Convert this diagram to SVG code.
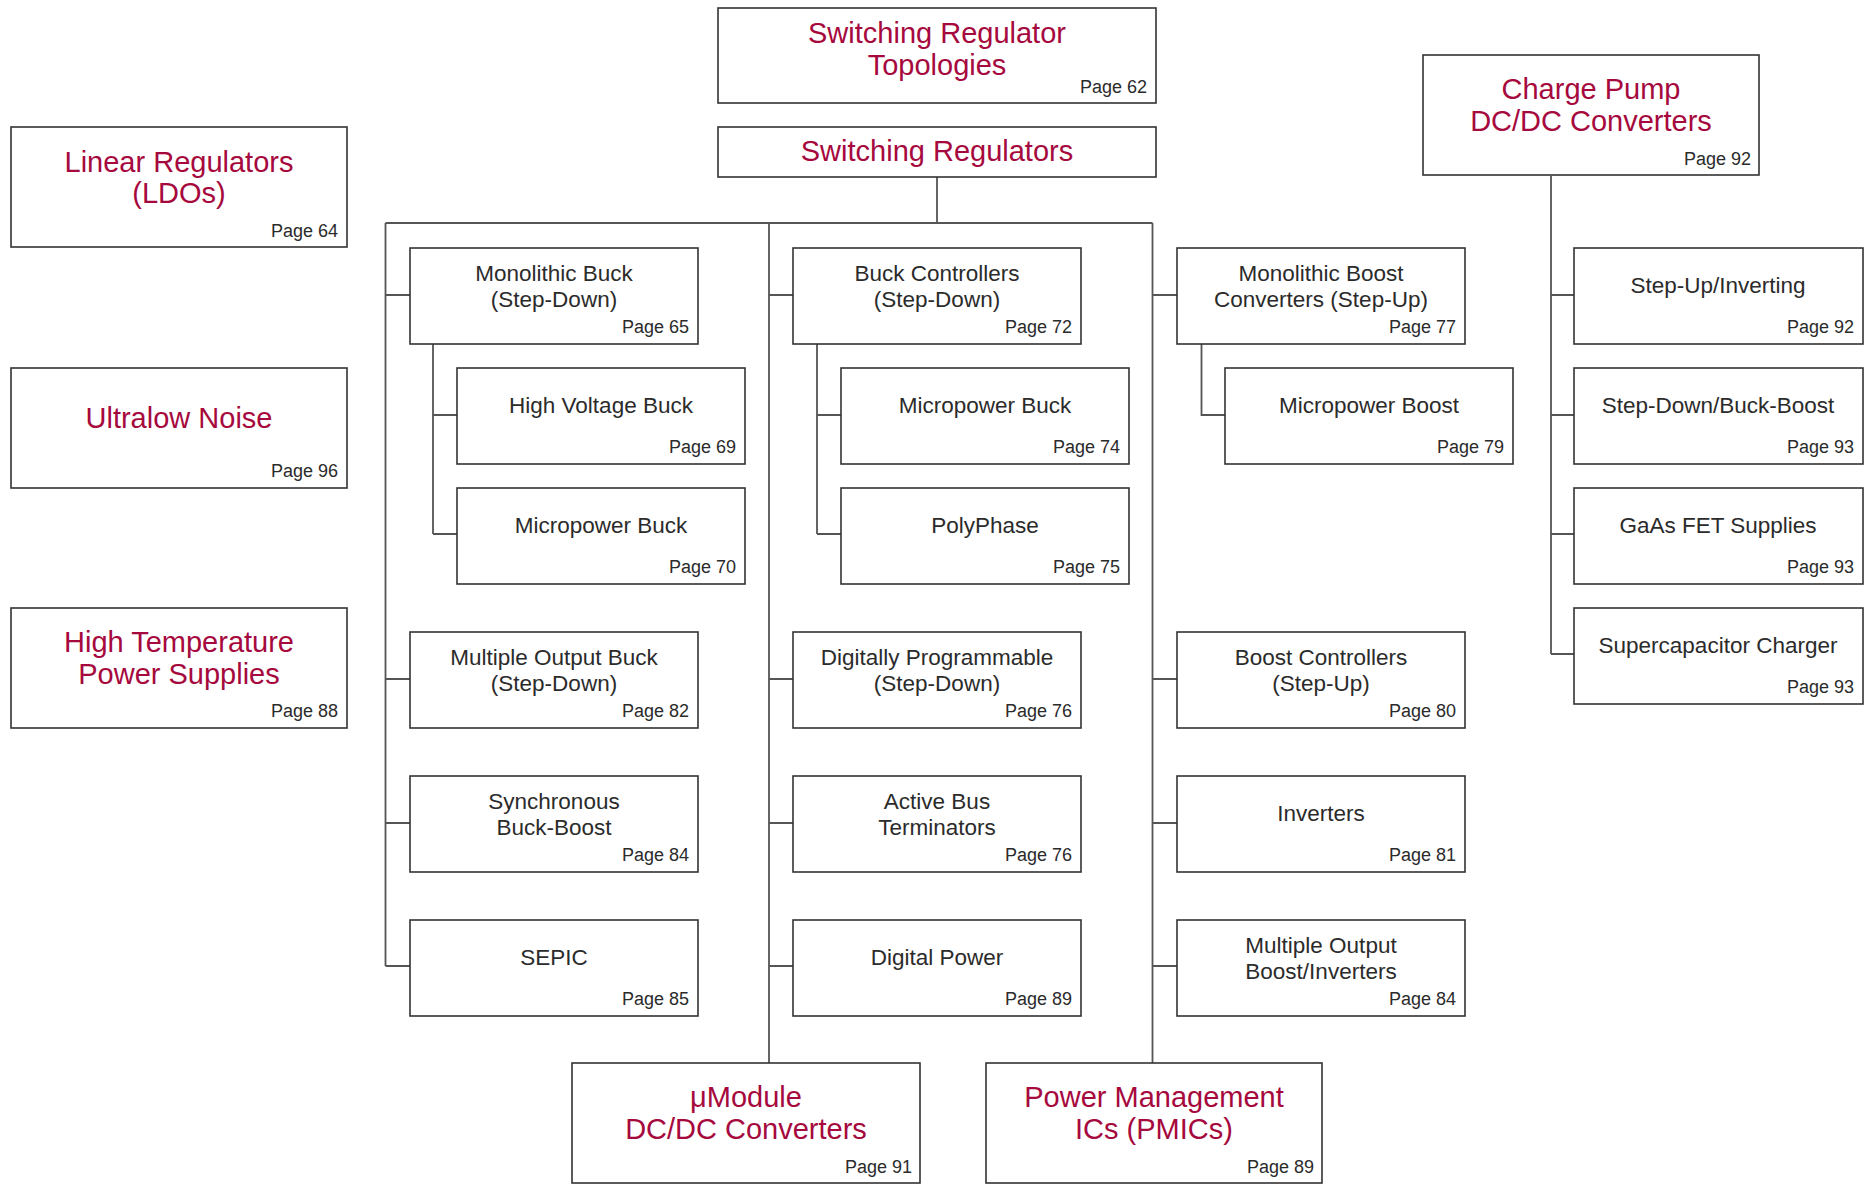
<svg xmlns="http://www.w3.org/2000/svg" width="1873" height="1184" viewBox="0 0 1873 1184">
<style>
rect{fill:#fff;stroke:#333;stroke-width:1.6}
text{font-family:"Liberation Sans",Arial,sans-serif}
.t{font-size:22.5px;fill:#2b2b2b;text-anchor:middle}
.r{font-size:29px;fill:#a6093d;text-anchor:middle}
.p{font-size:18px;fill:#2b2b2b;text-anchor:end}
.c{fill:none;stroke:#555;stroke-width:1.8}
</style>
<rect x="0" y="0" width="1873" height="1184" style="fill:#fff;stroke:none"/>
<g id="connectors">
<path class="c" d="M937,177V223M385.5,223H1152.5M385.5,223V966M769,223V1063M1152.5,223V1063"/>
<path class="c" d="M385.5,295H410M385.5,679H410M385.5,823H410M385.5,966H410"/>
<path class="c" d="M433,344V534M433,415H457M433,534H457"/>
<path class="c" d="M769,295H793M769,679H793M769,823H793M769,966H793"/>
<path class="c" d="M817,344V534M817,415H841M817,534H841"/>
<path class="c" d="M1152.5,295H1177M1152.5,679H1177M1152.5,823H1177M1152.5,966H1177"/>
<path class="c" d="M1201.5,344V415H1225"/>
<path class="c" d="M1551,176V654M1551,295H1574M1551,415H1574M1551,534H1574M1551,654H1574"/>
</g>
<g id="n-topologies"><rect x="718" y="8" width="438" height="95"/><text class="r" x="937" y="43">Switching Regulator</text><text class="r" x="937" y="75">Topologies</text><text class="p" x="1147" y="93">Page 62</text></g>
<g id="n-switching"><rect x="718" y="127" width="438" height="50"/><text class="r" x="937" y="161">Switching Regulators</text></g>
<g id="n-linear"><rect x="11" y="127" width="336" height="120"/><text class="r" x="179" y="172">Linear Regulators</text><text class="r" x="179" y="203">(LDOs)</text><text class="p" x="338" y="237">Page 64</text></g>
<g id="n-ultralow"><rect x="11" y="368" width="336" height="120"/><text class="r" x="179" y="428">Ultralow Noise</text><text class="p" x="338" y="477">Page 96</text></g>
<g id="n-hightemp"><rect x="11" y="608" width="336" height="120"/><text class="r" x="179" y="652">High Temperature</text><text class="r" x="179" y="684">Power Supplies</text><text class="p" x="338" y="717">Page 88</text></g>
<g id="n-chargepump"><rect x="1423" y="55" width="336" height="120"/><text class="r" x="1591" y="99">Charge Pump</text><text class="r" x="1591" y="131">DC/DC Converters</text><text class="p" x="1751" y="165">Page 92</text></g>
<g id="n-umodule"><rect x="572" y="1063" width="348" height="120"/><text class="r" x="746" y="1107">μModule</text><text class="r" x="746" y="1139">DC/DC Converters</text><text class="p" x="912" y="1173">Page 91</text></g>
<g id="n-pmic"><rect x="986" y="1063" width="336" height="120"/><text class="r" x="1154" y="1107">Power Management</text><text class="r" x="1154" y="1139">ICs (PMICs)</text><text class="p" x="1314" y="1173">Page 89</text></g>
<g id="n-monobuck"><rect x="410" y="248" width="288" height="96"/><text class="t" x="554" y="281">Monolithic Buck</text><text class="t" x="554" y="307">(Step-Down)</text><text class="p" x="689" y="333">Page 65</text></g>
<g id="n-hvbuck"><rect x="457" y="368" width="288" height="96"/><text class="t" x="601" y="413">High Voltage Buck</text><text class="p" x="736" y="453">Page 69</text></g>
<g id="n-micropowerbuck1"><rect x="457" y="488" width="288" height="96"/><text class="t" x="601" y="533">Micropower Buck</text><text class="p" x="736" y="573">Page 70</text></g>
<g id="n-multibuck"><rect x="410" y="632" width="288" height="96"/><text class="t" x="554" y="665">Multiple Output Buck</text><text class="t" x="554" y="691">(Step-Down)</text><text class="p" x="689" y="717">Page 82</text></g>
<g id="n-syncbb"><rect x="410" y="776" width="288" height="96"/><text class="t" x="554" y="809">Synchronous</text><text class="t" x="554" y="835">Buck-Boost</text><text class="p" x="689" y="861">Page 84</text></g>
<g id="n-sepic"><rect x="410" y="920" width="288" height="96"/><text class="t" x="554" y="965">SEPIC</text><text class="p" x="689" y="1005">Page 85</text></g>
<g id="n-buckctrl"><rect x="793" y="248" width="288" height="96"/><text class="t" x="937" y="281">Buck Controllers</text><text class="t" x="937" y="307">(Step-Down)</text><text class="p" x="1072" y="333">Page 72</text></g>
<g id="n-micropowerbuck2"><rect x="841" y="368" width="288" height="96"/><text class="t" x="985" y="413">Micropower Buck</text><text class="p" x="1120" y="453">Page 74</text></g>
<g id="n-polyphase"><rect x="841" y="488" width="288" height="96"/><text class="t" x="985" y="533">PolyPhase</text><text class="p" x="1120" y="573">Page 75</text></g>
<g id="n-digprog"><rect x="793" y="632" width="288" height="96"/><text class="t" x="937" y="665">Digitally Programmable</text><text class="t" x="937" y="691">(Step-Down)</text><text class="p" x="1072" y="717">Page 76</text></g>
<g id="n-activebus"><rect x="793" y="776" width="288" height="96"/><text class="t" x="937" y="809">Active Bus</text><text class="t" x="937" y="835">Terminators</text><text class="p" x="1072" y="861">Page 76</text></g>
<g id="n-digpower"><rect x="793" y="920" width="288" height="96"/><text class="t" x="937" y="965">Digital Power</text><text class="p" x="1072" y="1005">Page 89</text></g>
<g id="n-monoboost"><rect x="1177" y="248" width="288" height="96"/><text class="t" x="1321" y="281">Monolithic Boost</text><text class="t" x="1321" y="307">Converters (Step-Up)</text><text class="p" x="1456" y="333">Page 77</text></g>
<g id="n-micropowerboost"><rect x="1225" y="368" width="288" height="96"/><text class="t" x="1369" y="413">Micropower Boost</text><text class="p" x="1504" y="453">Page 79</text></g>
<g id="n-boostctrl"><rect x="1177" y="632" width="288" height="96"/><text class="t" x="1321" y="665">Boost Controllers</text><text class="t" x="1321" y="691">(Step-Up)</text><text class="p" x="1456" y="717">Page 80</text></g>
<g id="n-inverters"><rect x="1177" y="776" width="288" height="96"/><text class="t" x="1321" y="821">Inverters</text><text class="p" x="1456" y="861">Page 81</text></g>
<g id="n-multiboost"><rect x="1177" y="920" width="288" height="96"/><text class="t" x="1321" y="953">Multiple Output</text><text class="t" x="1321" y="979">Boost/Inverters</text><text class="p" x="1456" y="1005">Page 84</text></g>
<g id="n-stepupinv"><rect x="1574" y="248" width="289" height="96"/><text class="t" x="1718" y="293">Step-Up/Inverting</text><text class="p" x="1854" y="333">Page 92</text></g>
<g id="n-stepdownbb"><rect x="1574" y="368" width="289" height="96"/><text class="t" x="1718" y="413">Step-Down/Buck-Boost</text><text class="p" x="1854" y="453">Page 93</text></g>
<g id="n-gaas"><rect x="1574" y="488" width="289" height="96"/><text class="t" x="1718" y="533">GaAs FET Supplies</text><text class="p" x="1854" y="573">Page 93</text></g>
<g id="n-supercap"><rect x="1574" y="608" width="289" height="96"/><text class="t" x="1718" y="653">Supercapacitor Charger</text><text class="p" x="1854" y="693">Page 93</text></g>
</svg>
